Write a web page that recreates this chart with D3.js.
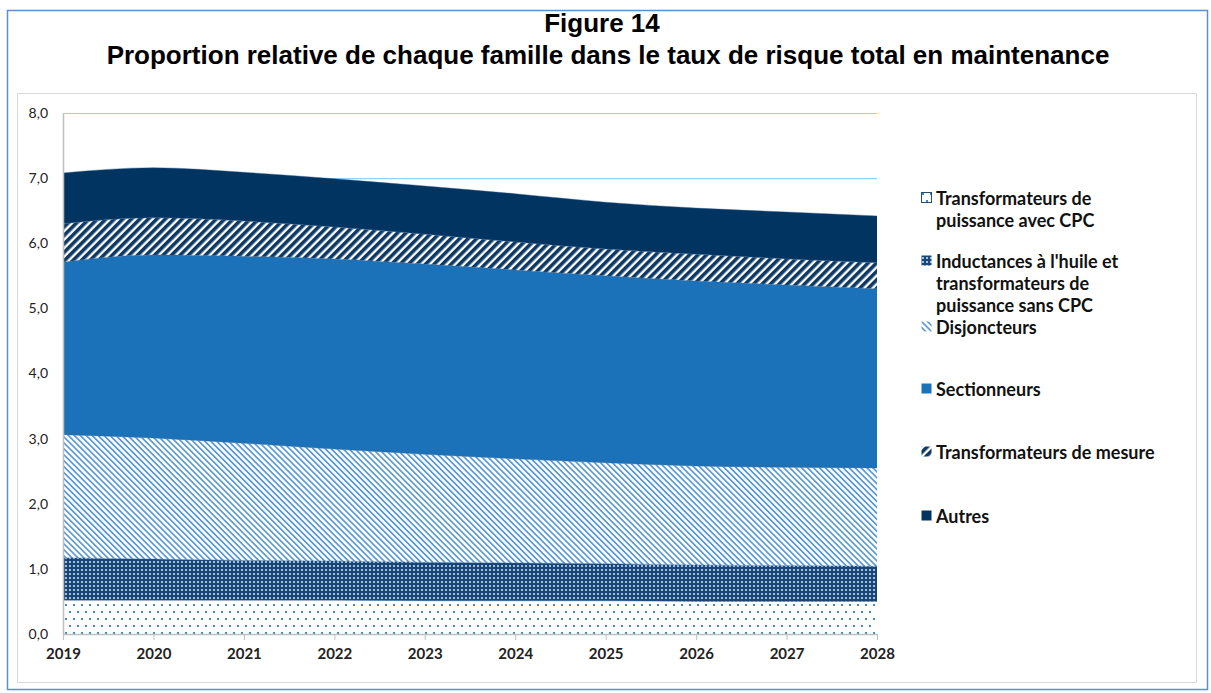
<!DOCTYPE html>
<html lang="fr">
<head>
  <meta charset="UTF-8">
  <title>Figure 14</title>
  <script src="https://d3js.org/d3.v7.min.js"></script>
  <style>
    body { margin: 0; background: #fff; }
  </style>
</head>
<body>
  <svg width="1211" height="693"></svg>

  <script>
    // Data (per-family values)
    const years = [2019, 2020, 2021, 2022, 2023, 2024, 2025, 2026, 2027, 2028];
    const yTicks = [0, 1, 2, 3, 4, 5, 6, 7, 8];

    const transfoAvecCPC = [0.52, 0.52, 0.52, 0.52, 0.51, 0.51, 0.51, 0.50, 0.50, 0.50];
    const inductances    = [0.65, 0.63, 0.61, 0.60, 0.59, 0.58, 0.57, 0.56, 0.55, 0.54];
    const disjoncteurs   = [1.89, 1.86, 1.80, 1.72, 1.66, 1.60, 1.55, 1.52, 1.51, 1.51];
    const sectionneurs   = [2.65, 2.81, 2.87, 2.92, 2.92, 2.90, 2.87, 2.84, 2.80, 2.75];
    const transfoMesure  = [0.59, 0.57, 0.54, 0.49, 0.46, 0.43, 0.41, 0.41, 0.40, 0.40];
    const autres         = [0.78, 0.77, 0.75, 0.74, 0.74, 0.74, 0.72, 0.71, 0.72, 0.72];

    const seriesNames = [
      "Transformateurs de puissance avec CPC",
      "Inductances à l'huile et transformateurs de puissance sans CPC",
      "Disjoncteurs",
      "Sectionneurs",
      "Transformateurs de mesure",
      "Autres"
    ];
    const seriesValues = [transfoAvecCPC, inductances, disjoncteurs, sectionneurs, transfoMesure, autres];

    const legendLines = [
      ["Transformateurs de", "puissance avec CPC"],
      ["Inductances à l'huile et", "transformateurs de", "puissance sans CPC"],
      ["Disjoncteurs"],
      ["Sectionneurs"],
      ["Transformateurs de mesure"],
      ["Autres"]
    ];

    const table = years.map((yr, i) => {
      const row = { year: yr };
      seriesNames.forEach((n, k) => row[n] = seriesValues[k][i]);
      return row;
    });

    const svg = d3.select("svg");

    // Outer frame
    svg.append("rect")
      .attr("x", 7.5).attr("y", 10.5)
      .attr("width", 1200).attr("height", 679)
      .attr("fill", "#fff").attr("stroke", "#5b8fd0").attr("stroke-width", 1.5);

    // Inner chart box
    svg.append("rect")
      .attr("x", 17.5).attr("y", 93.5)
      .attr("width", 1179).attr("height", 589)
      .attr("fill", "#fff").attr("stroke", "#d9d9d9").attr("stroke-width", 1);

    // Title
    const titleFont = "Liberation Sans, Arial, sans-serif";
    svg.append("text")
      .attr("x", 602).attr("y", 32)
      .attr("text-anchor", "middle")
      .style("font-family", titleFont)
      .style("font-weight", "bold").style("font-size", "26px")
      .text("Figure 14");
    svg.append("text")
      .attr("x", 608).attr("y", 64)
      .attr("text-anchor", "middle")
      .style("font-family", titleFont)
      .style("font-weight", "bold").style("font-size", "26px")
      .text("Proportion relative de chaque famille dans le taux de risque total en maintenance");

    // Patterns
    const defs = svg.append("defs");

    const pDots = defs.append("pattern").attr("id", "p0")
      .attr("patternUnits", "userSpaceOnUse").attr("width", 8).attr("height", 14);
    pDots.append("rect").attr("width", 8).attr("height", 14).attr("fill", "#fff");
    pDots.append("rect").attr("x", 1).attr("y", 2).attr("width", 2).attr("height", 2).attr("fill", "#3f88cc");
    pDots.append("rect").attr("x", 5).attr("y", 9).attr("width", 2).attr("height", 2).attr("fill", "#3f88cc");

    const pCheck = defs.append("pattern").attr("id", "p1")
      .attr("patternUnits", "userSpaceOnUse").attr("width", 4).attr("height", 4);
    pCheck.append("rect").attr("width", 4).attr("height", 4).attr("fill", "#1a4676");
    pCheck.append("rect").attr("x", 1).attr("y", 1).attr("width", 2).attr("height", 2).attr("fill", "#9dbfe0");

    // "\" direction light blue hatch
    const pDisj = defs.append("pattern").attr("id", "p2")
      .attr("patternUnits", "userSpaceOnUse").attr("width", 4.2).attr("height", 4.2)
      .attr("patternTransform", "rotate(-45)");
    pDisj.append("rect").attr("width", 4.2).attr("height", 4.2).attr("fill", "#fff");
    pDisj.append("rect").attr("x", 0).attr("y", 0).attr("width", 1.7).attr("height", 4.2).attr("fill", "#5a9ad6");

    // "/" direction navy hatch
    const pMes = defs.append("pattern").attr("id", "p4")
      .attr("patternUnits", "userSpaceOnUse").attr("width", 6).attr("height", 6)
      .attr("patternTransform", "rotate(45)");
    pMes.append("rect").attr("width", 6).attr("height", 6).attr("fill", "#fff");
    pMes.append("rect").attr("x", 0).attr("y", 0).attr("width", 3.6).attr("height", 6).attr("fill", "#0d3864");

    const fills = ["url(#p0)", "url(#p1)", "url(#p2)", "#1c72b8", "url(#p4)", "#023462"];

    // Scales
    const x = d3.scaleLinear().domain([2019, 2028]).range([63, 877]);
    const y = d3.scaleLinear().domain([0, 8]).range([634, 113]);

    // Gridlines
    svg.append("g")
      .selectAll("line")
      .data(yTicks.filter(d => d > 0))
      .join("line")
      .attr("x1", x(2019)).attr("x2", x(2028))
      .attr("y1", d => y(d) + 0.5).attr("y2", d => y(d) + 0.5)
      .attr("stroke", "#8fd4f1").attr("stroke-width", 1.2);

    // Stacked areas
    const stacked = d3.stack().keys(seriesNames)(table);

    const area = d3.area()
      .x(d => x(d.data.year))
      .y0(d => y(d[0]))
      .y1(d => y(d[1]))
      .curve(d3.curveMonotoneX);

    svg.append("g")
      .selectAll("path")
      .data(stacked)
      .join("path")
      .attr("fill", (d, i) => fills[i])
      .attr("d", area);

    // Thin edges between layers
    svg.append("g")
      .selectAll("path")
      .data(stacked)
      .join("path")
      .attr("fill", "none")
      .attr("stroke", "#2f5f8f")
      .attr("stroke-opacity", 0.5)
      .attr("stroke-width", 0.8)
      .attr("d", d3.line().x(d => x(d.data.year)).y(d => y(d[1])).curve(d3.curveMonotoneX));

    // Axes
    const axisFont = "Lato, 'Open Sans', sans-serif";
    const fmt = d => d.toFixed(1).replace(".", ",");
    const yAxis = svg.append("g")
      .attr("transform", "translate(" + x(2019) + ",0)")
      .call(d3.axisLeft(y).tickValues(yTicks).tickFormat(fmt).tickSize(0).tickPadding(15));
    yAxis.select(".domain").attr("stroke", "#bfbfbf").attr("stroke-width", 1.5);
    yAxis.selectAll("text")
      .style("font-family", axisFont)
      .style("font-size", "14px").attr("fill", "#222");

    const xAxis = svg.append("g")
      .attr("transform", "translate(0," + y(0) + ")")
      .call(d3.axisBottom(x).tickValues(years).tickFormat(d3.format("d")).tickSize(6).tickSizeOuter(0).tickPadding(8));
    xAxis.select(".domain").attr("stroke", "#bfbfbf").attr("stroke-width", 1.5);
    xAxis.selectAll(".tick line").attr("stroke", "#bfbfbf");
    xAxis.selectAll("text")
      .style("font-family", axisFont)
      .style("font-size", "15px").style("font-weight", "bold").attr("fill", "#222");

    // Legend
    const legendY = [205, 268, 334, 396, 459, 523];
    const legend = svg.append("g");
    seriesNames.forEach((name, i) => {
      const g = legend.append("g").attr("transform", "translate(921," + legendY[i] + ")");
      g.append("rect")
        .attr("x", 0.5).attr("y", -12.5).attr("width", 10).attr("height", 10)
        .attr("fill", fills[i])
        .attr("stroke", i === 0 ? "#1f4e79" : "none").attr("stroke-width", 1);
      const t = g.append("text")
        .attr("x", 15).attr("y", 0)
        .style("font-family", axisFont)
        .style("font-weight", "bold").style("font-size", "18px").attr("fill", "#111");
      legendLines[i].forEach((line, k) => {
        t.append("tspan").attr("x", 15).attr("dy", k === 0 ? 0 : 22).text(line);
      });
    });
  </script>
</body>
</html>
